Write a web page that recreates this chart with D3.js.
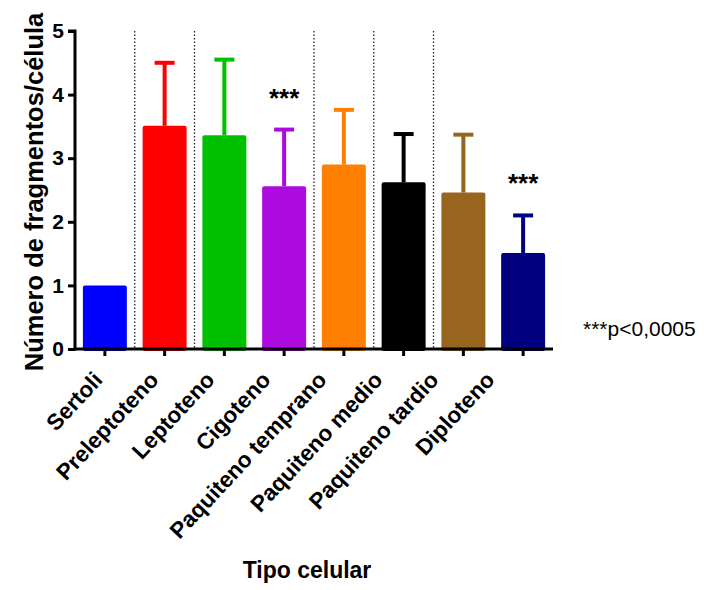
<!DOCTYPE html>
<html>
<head>
<meta charset="utf-8">
<script src="https://cdn.jsdelivr.net/npm/d3@7"></script>
<style>
  body { margin: 0; background: #fff; }
  text { font-family: "Liberation Sans", Arial, sans-serif; }
</style>
</head>
<body>
<svg id="chart" width="704" height="590"></svg>
<script>
const categories = ["Sertoli", "Preleptoteno", "Leptoteno", "Cigoteno",
  "Paquiteno temprano", "Paquiteno medio", "Paquiteno tardio", "Diploteno"];
const means = [1.0, 3.51, 3.36, 2.56, 2.90, 2.62, 2.46, 1.51];
const sd = [0, 0.99, 1.19, 0.89, 0.86, 0.76, 0.91, 0.59];
const colors = ["#0000ff", "#ff0000", "#00c000", "#ad0ae0",
  "#ff8000", "#000000", "#98651f", "#000080"];
const significant = ["Cigoteno", "Diploteno"];
const dividers = [1, 2, 4, 5, 6]; // band index after which a dotted line is drawn
const yTicks = [0, 1, 2, 3, 4, 5];

const svg = d3.select("#chart");
const plotLeft = 75, plotRight = 553, plotTop = 31, plotBottom = 349;
const labelStep = 56; // rotated labels sit a bit tighter than the ticks

const x = d3.scaleBand()
    .domain(categories)
    .range([plotLeft, plotRight])
    .paddingInner(0.264)
    .paddingOuter(0.132);

const y = d3.scaleLinear()
    .domain([0, 5])
    .range([plotBottom, plotTop]);

const step = x.step();

// dotted separators
svg.append("g")
  .selectAll("line")
  .data(dividers)
  .join("line")
    .attr("x1", d => plotLeft + d * step)
    .attr("x2", d => plotLeft + d * step)
    .attr("y1", plotTop)
    .attr("y2", plotBottom)
    .attr("stroke", "#222")
    .attr("stroke-width", 1.3)
    .attr("stroke-dasharray", "1.5,2");

// error bars (behind bars)
const err = svg.append("g");
categories.forEach((c, i) => {
  if (!sd[i]) return;
  const cx = x(c) + x.bandwidth() / 2;
  err.append("line")
      .attr("x1", cx).attr("x2", cx)
      .attr("y1", y(means[i])).attr("y2", y(means[i] + sd[i]))
      .attr("stroke", colors[i]).attr("stroke-width", 4);
  err.append("line")
      .attr("x1", cx - 10).attr("x2", cx + 10)
      .attr("y1", y(means[i] + sd[i])).attr("y2", y(means[i] + sd[i]))
      .attr("stroke", colors[i]).attr("stroke-width", 4);
});

// bars
svg.append("g")
  .selectAll("rect")
  .data(categories)
  .join("rect")
    .attr("x", d => x(d))
    .attr("width", x.bandwidth())
    .attr("y", (d, i) => y(means[i]))
    .attr("height", (d, i) => plotBottom - y(means[i]) + 2)
    .attr("rx", 2)
    .attr("fill", (d, i) => colors[i]);

// significance stars
svg.append("g")
  .selectAll("text")
  .data(significant)
  .join("text")
    .attr("x", d => x(d) + x.bandwidth() / 2)
    .attr("y", d => {
      const i = categories.indexOf(d);
      return y(means[i] + sd[i]) - 23;
    })
    .attr("text-anchor", "middle")
    .attr("font-size", 26)
    .attr("font-weight", "bold")
    .text("***");

// y axis
const yAxis = svg.append("g")
    .attr("transform", `translate(${plotLeft},0)`)
    .call(d3.axisLeft(y).tickValues(yTicks).tickSize(7).tickPadding(4).tickFormat(d3.format("d")));
yAxis.select(".domain").attr("stroke-width", 3).attr("d", `M-7,${plotTop}H0V${plotBottom + 1.5}`);
yAxis.selectAll(".tick line").attr("stroke-width", 3);
yAxis.selectAll(".tick text")
    .attr("font-size", 21)
    .attr("font-weight", "bold")
    .attr("font-family", "Liberation Sans, Arial, sans-serif")
    .attr("fill", "#000");

// x axis
const xAxis = svg.append("g")
    .attr("transform", `translate(0,${plotBottom})`)
    .call(d3.axisBottom(x).tickSize(7).tickSizeOuter(0));
xAxis.select(".domain").attr("stroke-width", 3).attr("d", `M${plotLeft - 1.5},0H${plotRight}`);
xAxis.selectAll(".tick line").attr("stroke-width", 3);
xAxis.selectAll(".tick text")
    .attr("font-size", 22.5)
    .attr("font-weight", "bold")
    .attr("font-family", "Liberation Sans, Arial, sans-serif")
    .attr("fill", "#000")
    .attr("text-anchor", "end")
    .attr("dy", null)
    .attr("y", 0)
    .attr("transform", (d, i) => `translate(${-(step - labelStep) * i - 1},32) rotate(-47)`);

// axis titles
svg.append("text")
    .attr("transform", `translate(43,${(plotTop + plotBottom) / 2 + 2}) rotate(-90)`)
    .attr("text-anchor", "middle")
    .attr("font-size", 25.5)
    .attr("font-weight", "bold")
    .text("Número de fragmentos/célula");

svg.append("text")
    .attr("x", 307)
    .attr("y", 578)
    .attr("text-anchor", "middle")
    .attr("font-size", 23)
    .attr("font-weight", "bold")
    .text("Tipo celular");

svg.append("text")
    .attr("x", 583)
    .attr("y", 336)
    .attr("font-size", 21)
    .text("***p<0,0005");
</script>
</body>
</html>
